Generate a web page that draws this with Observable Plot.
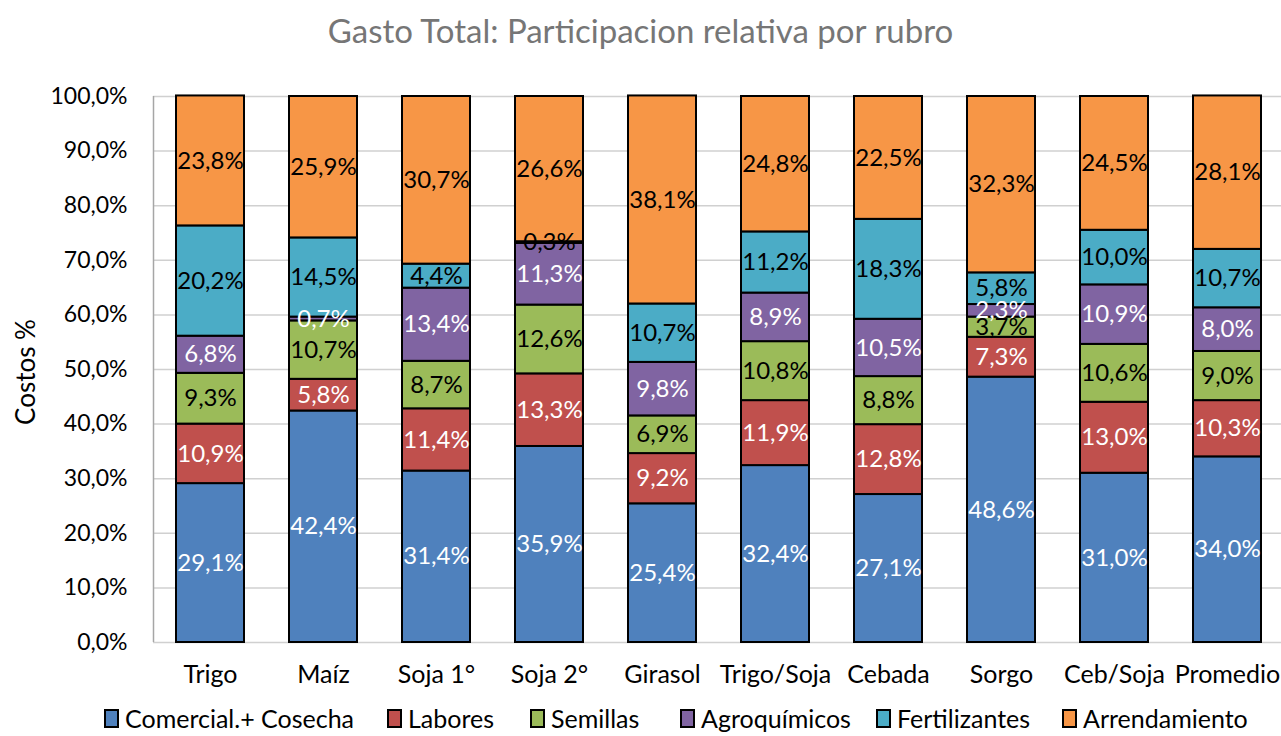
<!DOCTYPE html>
<html><head><meta charset="utf-8">
<script src="https://cdn.jsdelivr.net/npm/d3@7"></script>
<script src="https://cdn.jsdelivr.net/npm/@observablehq/plot@0.6"></script>
<style>
body{margin:0;background:#fff;font-family:Lato,"Open Sans",sans-serif;width:1281px;height:736px;overflow:hidden}
#title{height:60px;line-height:60px;text-align:center;font-size:33px;color:#767676;}
#chart{height:640px;position:relative}
#legend{position:relative;height:36px;font-size:25px;color:#000;white-space:nowrap}
#legend .item{position:absolute;top:0;height:36px;display:flex;align-items:center}
#legend .sw{width:11px;height:15px;border:2px solid #000;margin-right:6px}
#ylab{position:absolute;left:25px;top:312px;transform:translate(-50%,-50%) rotate(-90deg);font-size:26px;white-space:nowrap}
</style></head>
<body>
<div id="title">Gasto Total: Participacion relativa por rubro</div>
<div id="chart"><div id="ylab">Costos %</div></div>
<div id="legend"></div>
<script>
const categories = ["Trigo","Maíz","Soja 1°","Soja 2°","Girasol","Trigo/Soja","Cebada","Sorgo","Ceb/Soja","Promedio"];
const series = ["Comercial.+ Cosecha","Labores","Semillas","Agroquímicos","Fertilizantes","Arrendamiento"];
const colors = ["#4f81bd","#c0504d","#9bbb59","#8064a2","#4bacc6","#f79646"];
const labelColors = ["#fff","#fff","#000","#fff","#000","#000"];
const comercial = [29.1,42.4,31.4,35.9,25.4,32.4,27.1,48.6,31.0,34.0];
const labores = [10.9,5.8,11.4,13.3,9.2,11.9,12.8,7.3,13.0,10.3];
const semillas = [9.3,10.7,8.7,12.6,6.9,10.8,8.8,3.7,10.6,9.0];
const agroquimicos = [6.8,0.7,13.4,11.3,9.8,8.9,10.5,2.3,10.9,8.0];
const fertilizantes = [20.2,14.5,4.4,0.3,10.7,11.2,18.3,5.8,10.0,10.7];
const arrendamiento = [23.8,25.9,30.7,26.6,38.1,24.8,22.5,32.3,24.5,28.1];
const yTicks = [0,10,20,30,40,50,60,70,80,90,100];
const legendX = [104,387,530,680,876,1062];

const values = [comercial,labores,semillas,agroquimicos,fertilizantes,arrendamiento];
const data = [];
series.forEach((s,i)=>categories.forEach((c,j)=>data.push({cat:c, rubro:s, value:values[i][j], lc:labelColors[i]})));
const fmt = v => v.toFixed(1).replace(".", ",") + "%";

const leftAxisLine = (index, scales) => {
  const g = d3.create("svg:line")
    .attr("x1",153.5).attr("x2",153.5)
    .attr("y1",scales.y(0)).attr("y2",scales.y(100))
    .attr("stroke","#a6a6a6").attr("stroke-width",1.5);
  return g.node();
};

const plot = Plot.plot({
  width:1281, height:640,
  marginLeft:153, marginRight:0, marginTop:36, marginBottom:58,
  style:{fontFamily:"Lato, 'Open Sans', sans-serif", fontSize:"22px", color:"#000", background:"transparent"},
  x:{domain:categories, range:[153,1283], paddingInner:0.4, paddingOuter:0.2, align:0.5, label:null},
  y:{domain:[0,100], label:null},
  color:{domain:series, range:colors},
  marks:[
    Plot.ruleY(yTicks,{stroke:"#d0d0d0", strokeWidth:1.5}),
    leftAxisLine,
    Plot.barY(data, Plot.stackY({x:"cat", y:"value", z:"rubro", fill:"rubro", stroke:"#000", strokeWidth:2, order:null})),
    Plot.text(data, Plot.stackY({x:"cat", y:"value", z:"rubro", text:d=>fmt(d.value), fill:"lc", fontSize:24, order:null})),
    Plot.axisY(yTicks,{tickSize:0, tickPadding:26, tickFormat:fmt, fontSize:23, label:null}),
    Plot.axisX({tickSize:0, tickPadding:23, fontSize:25, label:null})
  ]
});
document.getElementById("chart").appendChild(plot);

const leg = document.getElementById("legend");
series.forEach((s,i)=>{
  const it = document.createElement("div"); it.className="item";
  it.style.left = legendX[i] + "px";
  it.innerHTML = `<span class="sw" style="background:${colors[i]}"></span><span>${s}</span>`;
  leg.appendChild(it);
});
</script>
</body></html>
